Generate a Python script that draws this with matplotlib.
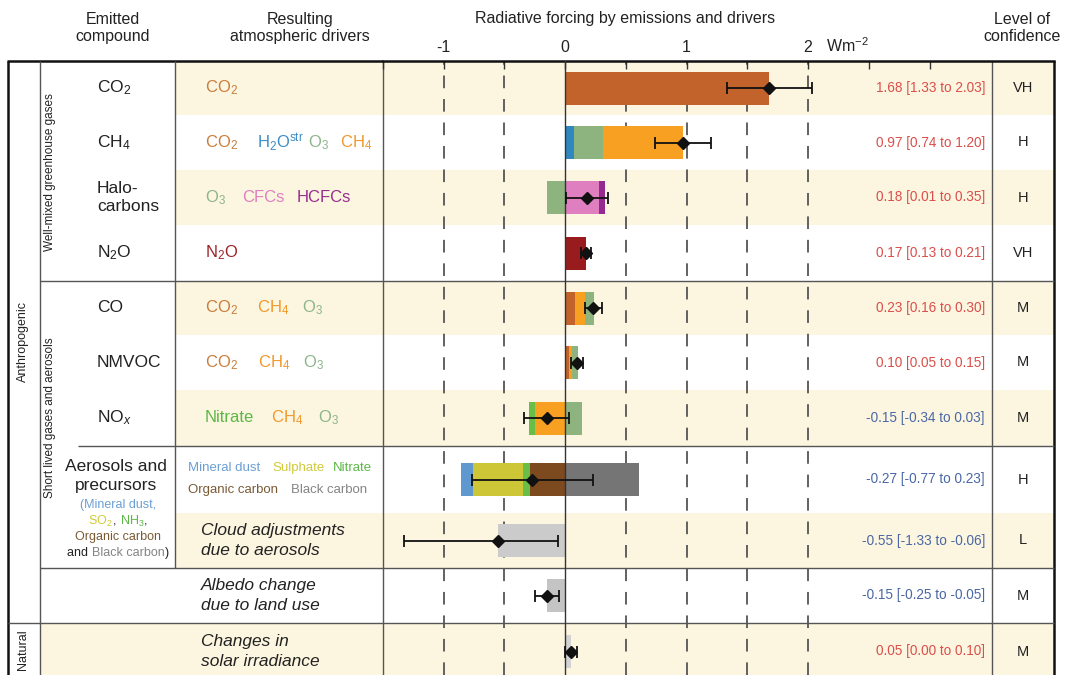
import numpy as np
import matplotlib
matplotlib.use("Agg")
import matplotlib.pyplot as plt
from matplotlib.patches import Rectangle

plt.rcParams['font.family'] = ['Liberation Sans', 'DejaVu Sans']
plt.rcParams['mathtext.fontset'] = 'custom'
plt.rcParams['mathtext.rm'] = 'Liberation Sans'
plt.rcParams['mathtext.it'] = 'Liberation Sans:italic'
plt.rcParams['mathtext.bf'] = 'Liberation Sans:bold'

# ---- data ----
compounds = ["CO$_2$", "CH$_4$", "Halo-\ncarbons", "N$_2$O", "CO", "NMVOC", "NO$_x$"]
aerosol_compound = "Aerosols and\nprecursors"

# stacked components per row (negative parts listed from zero outwards)
components = [
    [("CO2", 1.68)],
    [("H2Ostr", 0.07), ("O3", 0.24), ("CH4", 0.66)],
    [("O3", -0.15), ("CFCs", 0.28), ("HCFCs", 0.05)],
    [("N2O", 0.17)],
    [("CO2", 0.08), ("CH4", 0.085), ("O3", 0.075)],
    [("CO2", 0.03), ("CH4", 0.03), ("O3", 0.045)],
    [("CH4", -0.25), ("Nitrate", -0.05), ("O3", 0.14)],
    [("OC", -0.29), ("Nitrate", -0.06), ("Sulphate", -0.41), ("Dust", -0.10), ("BC", 0.61)],
    [("Cloud", -0.55)],
    [("Albedo", -0.15)],
    [("Solar", 0.05)],
]
best = np.array([1.68, 0.97, 0.18, 0.17, 0.23, 0.10, -0.15, -0.27, -0.55, -0.15, 0.05])
low = np.array([1.33, 0.74, 0.01, 0.13, 0.16, 0.05, -0.34, -0.77, -1.33, -0.25, 0.00])
high = np.array([2.03, 1.20, 0.35, 0.21, 0.30, 0.15, 0.03, 0.23, -0.06, -0.05, 0.10])
confidence = ["VH", "H", "H", "VH", "M", "M", "M", "H", "L", "M", "M"]

drivers = [
    [("CO$_2$", "CO2")],
    [("CO$_2$", "CO2"), ("H$_2$O$^{\\mathrm{str}}$", "H2Ostr"), ("O$_3$", "O3"), ("CH$_4$", "CH4")],
    [("O$_3$", "O3"), ("CFCs", "CFCs"), ("HCFCs", "HCFCs")],
    [("N$_2$O", "N2O")],
    [("CO$_2$", "CO2"), ("CH$_4$", "CH4"), ("O$_3$", "O3")],
    [("CO$_2$", "CO2"), ("CH$_4$", "CH4"), ("O$_3$", "O3")],
    [("Nitrate", "Nitrate"), ("CH$_4$", "CH4"), ("O$_3$", "O3")],
]
aerosol_drivers = [
    [("Mineral dust", "Dust"), ("Sulphate", "Sulphate"), ("Nitrate", "Nitrate")],
    [("Organic carbon", "OC"), ("Black carbon", "BC")],
]
aerosol_sub = [
    [("(Mineral dust,", "Dust")],
    [("SO$_2$", "Sulphate"), (", ", "k"), ("NH$_3$", "Nitrate"), (",", "k")],
    [("Organic carbon", "OC")],
    [("and ", "k"), ("Black carbon", "BC"), (")", "k")],
]
other_drivers = ["Cloud adjustments\ndue to aerosols", "Albedo change\ndue to land use",
                 "Changes in\nsolar irradiance"]

# ---- styles ----
bar_col = {"CO2": "#c1632a", "H2Ostr": "#2f87c0", "O3": "#8db47f", "CH4": "#f7a021",
           "CFCs": "#df7fbf", "HCFCs": "#942a8f", "N2O": "#981b1e", "Nitrate": "#68be46",
           "Dust": "#5e98cf", "Sulphate": "#cdc737", "OC": "#7c4a1e", "BC": "#757575",
           "Cloud": "#cbcbcb", "Albedo": "#c4c4c4", "Solar": "#d3d3d3"}
txt_col = {"CO2": "#c97d3c", "H2Ostr": "#3b8dc5", "O3": "#8cb58a", "CH4": "#f0992c",
           "CFCs": "#e07fc0", "HCFCs": "#982c8f", "N2O": "#9b2428", "Nitrate": "#5cb846",
           "Dust": "#6b9fd4", "Sulphate": "#cfcb3a", "OC": "#7a5a35", "BC": "#848484",
           "k": "#222222"}
cream = "#fcf5e0"
line_c = "#555555"

# layout in pixels
W, H = 1072, 675
edges = [61, 115, 170, 225, 281, 335, 390, 446, 513, 568, 623, 680]
centers = [(a + b) / 2 for a, b in zip(edges[:-1], edges[1:])]
x_left, x_c1, x_c2, x_plot, x_val, x_right = 8, 40, 175, 383, 992, 1054
x_zero, px_per_unit = 563, 122.0

fig = plt.figure(figsize=(W / 100, H / 100), dpi=100)
bg = fig.add_axes([0, 0, 1, 1])
bg.set_xlim(0, W)
bg.set_ylim(H, 0)
bg.axis('off')

# row bands
for i in range(len(centers)):
    if i % 2 == 0:
        x0 = x_c1 if i == 10 else x_c2
        bg.add_patch(Rectangle((x0, edges[i]), x_right - x0, edges[i + 1] - edges[i],
                               color=cream, lw=0, zorder=0))

# table lines
def hline(y, x0, x1, lw=1.0, c=line_c):
    bg.plot([x0, x1], [y, y], color=c, lw=lw, zorder=2, solid_capstyle='butt')

def vline(x, y0, y1, lw=1.0, c=line_c):
    bg.plot([x, x], [y0, y1], color=c, lw=lw, zorder=2, solid_capstyle='butt')

hline(edges[0], x_left - 1, x_plot, lw=1.8, c='#111')
vline(x_left, edges[0], H, lw=1.8, c='#111')
vline(x_right, edges[0], H, lw=1.8, c='#111')
vline(x_c1, edges[0], H)
vline(x_c2, edges[0], edges[9])
vline(x_plot, edges[0], H)
vline(x_val, edges[0], H)
hline(edges[4], x_c1, x_right)
hline(edges[7], 78, x_right)
hline(edges[9], x_c1, x_right)
hline(edges[10], x_left, x_right)

# headers
hdr = dict(ha='center', va='center', fontsize=11.5, color='#222', linespacing=1.13)
bg.text(113, 28, "Emitted\ncompound", **hdr)
bg.text(300, 28, "Resulting\natmospheric drivers", **hdr)
bg.text(1022, 28, "Level of\nconfidence", **hdr)
bg.text(625, 19, "Radiative forcing by emissions and drivers", **hdr)
bg.text(826, 46, "Wm$^{-2}$", ha='left', va='center', fontsize=11.5, color='#222')

# category labels
bg.text(50, 172, "Well-mixed greenhouse gases", rotation=90, ha='center', va='center',
        fontsize=8.5, color='#222')
bg.text(50, 418, "Short lived gases and aerosols", rotation=90, ha='center', va='center',
        fontsize=8.5, color='#222')
bg.text(23, 342, "Anthropogenic", rotation=90, ha='center', va='center', fontsize=9, color='#222')
bg.text(23, 650, "Natural", rotation=90, ha='center', va='center', fontsize=9, color='#222')

# compound labels
for i, lab in enumerate(compounds):
    bg.text(97, centers[i], lab, ha='left', va='center', fontsize=12.5, color='#222',
            linespacing=1.3)
bg.text(116, 476, aerosol_compound, ha='center', va='center', fontsize=12.5, color='#222',
        linespacing=1.4)

renderer = fig.canvas.get_renderer()

def colored_line(xc, y, pieces, size):
    widths = []
    for s, k in pieces:
        t = bg.text(0, 0, s, fontsize=size)
        widths.append(t.get_window_extent(renderer).width)
        t.remove()
    x = xc - sum(widths) / 2
    for (s, k), w in zip(pieces, widths):
        bg.text(x, y, s, ha='left', va='center', fontsize=size, color=txt_col[k])
        x += w

for j, line in enumerate(aerosol_sub):
    colored_line(118, 505 + 16 * j, line, 9)

# driver labels
driver_x = [[205], [205, 257, 308, 340], [205, 242, 297], [205],
            [205, 257, 302], [205, 258, 303], [205, 271, 318]]
for i, row in enumerate(drivers):
    for (s, k), x in zip(row, driver_x[i]):
        bg.text(x, centers[i], s, ha='left', va='center', fontsize=12, color=txt_col[k])
aer_x = [[188, 272, 333], [188, 291]]
for j, row in enumerate(aerosol_drivers):
    for (s, k), x in zip(row, aer_x[j]):
        bg.text(x, 468 + 22 * j, s, ha='left', va='center', fontsize=9.5, color=txt_col[k])
for j, s in enumerate(other_drivers):
    bg.text(201, centers[8 + j], s, ha='left', va='center', fontsize=12.5, style='italic',
            color='#222', linespacing=1.45)

# values and confidence
for i in range(len(best)):
    col = '#db4f4a' if best[i] > 0 else '#4a68a6'
    bg.text(985, centers[i], f"{best[i]:.2f} [{low[i]:.2f} to {high[i]:.2f}]", ha='right',
            va='center', fontsize=9.8, color=col)
    bg.text(1023, centers[i], confidence[i], ha='center', va='center', fontsize=10.5,
            color='#222')

# ---- forcing plot ----
ax = fig.add_axes([x_plot / W, 0, (x_right - x_plot) / W, (H - edges[0]) / H])
ax.set_xlim((x_plot - x_zero) / px_per_unit, (x_right - x_zero) / px_per_unit)
ax.set_ylim(H, edges[0])
ax.patch.set_alpha(0)
for sp in ['left', 'right', 'bottom']:
    ax.spines[sp].set_visible(False)
ax.spines['top'].set_linewidth(1.8)
ax.spines['top'].set_color('#111')
ax.xaxis.tick_top()
ticks = np.arange(-1.5, 3.01, 0.5)
ax.set_xticks(ticks)
ax.set_xticklabels(["-1" if t == -1 else f"{t:.0f}" if t in (0, 1, 2) else "" for t in ticks])
ax.tick_params(axis='x', direction='in', length=6, width=1, color='#333', pad=4,
               labelsize=11.5, labelcolor='#222')
ax.set_yticks([])

for x in [-1, -0.5, 0.5, 1, 1.5, 2]:
    ax.axvline(x, ls=(0, (7, 6)), color='#555', lw=1.3, zorder=1)
ax.axvline(0, color='#333', lw=1.0, zorder=3)

for i, row in enumerate(components):
    pos, neg = 0.0, 0.0
    for key, val in row:
        if val >= 0:
            left = pos
            pos += val
        else:
            left = neg
            neg += val
        ax.barh(centers[i], val, left=left, height=33, color=bar_col[key], lw=0, zorder=2)

ax.errorbar(best, centers, xerr=[best - low, high - best], fmt='D', color='#111', ms=6,
            capsize=4.5, elinewidth=1.3, capthick=1.3, zorder=4)

fig.savefig("out.png", dpi=100)
